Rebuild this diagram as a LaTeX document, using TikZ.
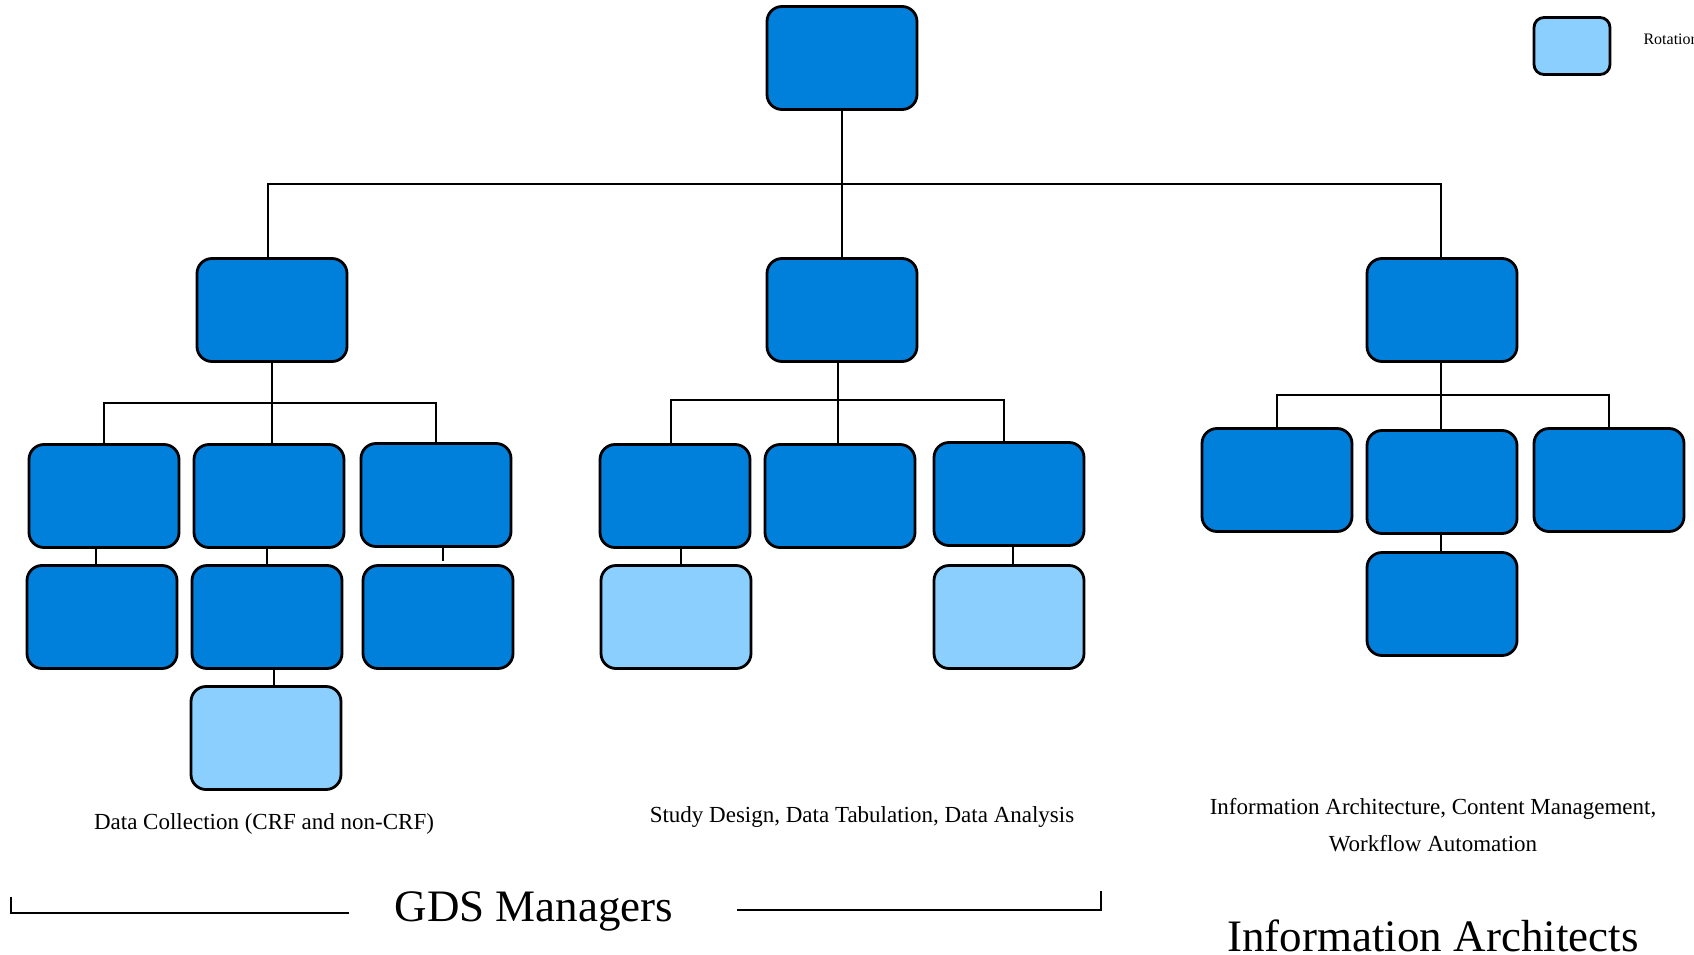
\documentclass[tikz,border=0pt]{standalone}
\usepackage{fontspec}
\setmainfont{Liberation Serif}
\definecolor{boxblue}{RGB}{0,128,219}
\definecolor{boxlight}{RGB}{139,207,255}
\begin{document}
\begin{tikzpicture}[x=1pt,y=-1pt,
  role/.style={draw=black, line width=2.8pt, rounded corners=15pt,
    minimum width=150pt, minimum height=103pt, inner sep=0pt},
  dark/.style={role, fill=boxblue},
  light/.style={role, fill=boxlight},
  link/.style={line width=2.8pt},
  caption/.style={font=\fontsize{23}{27}\selectfont, anchor=base},
  title/.style={font=\fontsize{45}{50}\selectfont, anchor=base}]
\useasboundingbox (0,0) rectangle (1694,955);

% top level
\node[dark] (top) at (842,58) {};
% second level
\node[dark] (l1) at (272,310) {};
\node[dark] (l2) at (842,310) {};
\node[dark] (l3) at (1442,310) {};
% left branch
\node[dark] (a) at (104,496) {};
\node[dark] (b) at (269,496) {};
\node[dark] (c) at (436,495) {};
\node[dark] (d) at (102,617) {};
\node[dark] (e) at (267,617) {};
\node[dark] (f) at (438,617) {};
\node[light] (g) at (266,738) {};
% middle branch
\node[dark] (h) at (675,496) {};
\node[dark] (i) at (840,496) {};
\node[dark] (j) at (1009,494) {};
\node[light] (k) at (676,617) {};
\node[light] (l) at (1009,617) {};
% right branch
\node[dark] (m) at (1277,480) {};
\node[dark] (n) at (1442,482) {};
\node[dark] (o) at (1609,480) {};
\node[dark] (p) at (1442,604) {};
% legend
\node[light, minimum width=76pt, minimum height=57pt, rounded corners=10pt] (key) at (1572,46) {};
\node[anchor=west, font=\fontsize{16}{18}\selectfont] (keytext) at (1640,39) {Rotation};

% hubs
\coordinate (hub) at (842,184);
\coordinate (lhub) at (272,403);
\coordinate (mhub) at (838,400);
\coordinate (rhub) at (1441,395);

% connectors: top tier
\draw[link] (top.south) -- (l2.north);
\draw[link] ([xshift=-4pt]l1.north) |- (hub) -| ([xshift=-1pt]l3.north);
% left tier
\draw[link] (l1.south) -- (lhub);
\draw[link] (a.north) |- (lhub) -| (c.north);
\draw[link] ([xshift=3pt]b.north) -- ([xshift=3pt]b.north |- lhub);
\draw[link] ([xshift=-8pt]a.south) -- ([xshift=-8pt]a.south |- d.north);
\draw[link] ([xshift=-2pt]b.south) -- ([xshift=-2pt]b.south |- e.north);
\draw[link] ([xshift=7pt]c.south) -- ++(0,13);
\draw[link] ([xshift=7pt]e.south) -- ([xshift=7pt]e.south |- g.north);
% middle tier
\draw[link] ([xshift=-4pt]l2.south) -- (mhub);
\draw[link] ([xshift=-4pt]h.north) |- (mhub) -| ([xshift=-5pt]j.north);
\draw[link] ([xshift=-2pt]i.north) -- ([xshift=-2pt]i.north |- mhub);
\draw[link] ([xshift=6pt]h.south) -- ([xshift=6pt]h.south |- k.north);
\draw[link] ([xshift=4pt]j.south) -- ([xshift=4pt]j.south |- l.north);
% right tier
\draw[link] ([xshift=-1pt]l3.south) -- (rhub);
\draw[link] (m.north) |- (rhub) -| (o.north);
\draw[link] ([xshift=-1pt]n.north) -- (rhub);
\draw[link] ([xshift=-1pt]n.south) -- ([xshift=-1pt]n.south |- p.north);

% captions
\node[caption] (capA) at (264,829) {Data Collection (CRF and non-CRF)};
\node[caption] (capB) at (862,822) {Study Design, Data Tabulation, Data Analysis};
\node[caption] (capC1) at (1433,814) {Information Architecture, Content Management,};
\node[caption] (capC2) at (1433,851) {Workflow Automation};

% group titles
\node[title] (gds) at (534,921) {GDS Managers};
\node[title] (ia) at (1433,951) {Information Architects};
\draw[link] (11,897) |- (349,913);
\draw[link] (737,910) -| (1101,891);
\end{tikzpicture}
\end{document}
